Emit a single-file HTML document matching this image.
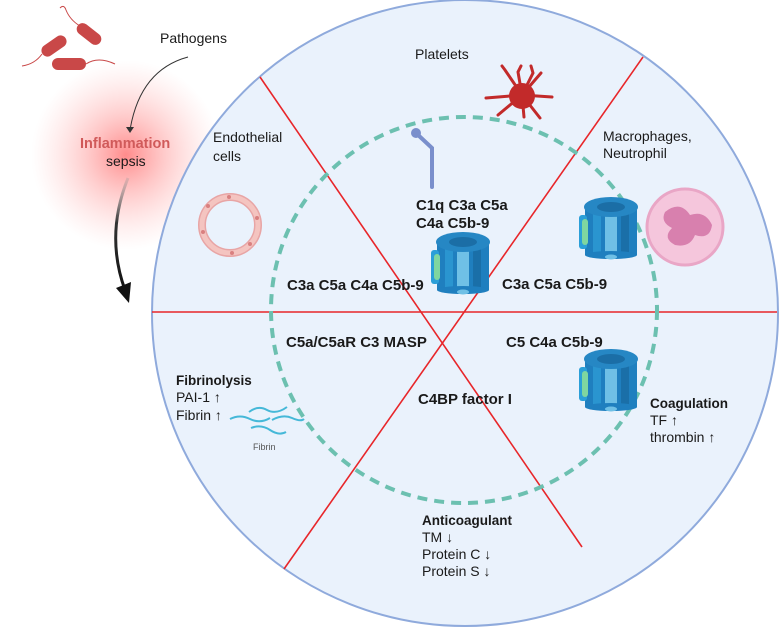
<!DOCTYPE html>
<html><head><meta charset="utf-8"><style>
html,body{margin:0;padding:0;background:#fff;}
svg{display:block;}
text{font-family:"Liberation Sans",Arial,sans-serif;fill:#1a1a1a;}
.b{font-weight:bold;font-size:15px;}
.n{font-size:14px;}
</style></head><body>
<svg width="779" height="628" viewBox="0 0 779 628" xmlns="http://www.w3.org/2000/svg">
<defs>
<radialGradient id="glow" cx="50%" cy="50%" r="50%">
<stop offset="0" stop-color="#ff5a5a" stop-opacity="0.7"/>
<stop offset="0.4" stop-color="#ff7b7b" stop-opacity="0.4"/>
<stop offset="1" stop-color="#ffb0b0" stop-opacity="0"/>
</radialGradient>
<linearGradient id="arr" x1="0" y1="0" x2="0" y2="1">
<stop offset="0" stop-color="#999" stop-opacity="0.3"/>
<stop offset="0.4" stop-color="#333"/>
<stop offset="1" stop-color="#111"/>
</linearGradient>
<g id="chan">
<rect x="-26" y="-20" width="52" height="48" fill="#1f7fbf"/>
<rect x="-18" y="-20" width="8" height="50" fill="#2a95d0"/>
<rect x="-6" y="-18" width="12" height="50" fill="#6fc0e6"/>
<rect x="10" y="-20" width="8" height="48" fill="#1a6fa8"/>
<ellipse cx="0" cy="28" rx="26" ry="4" fill="#1f7fbf"/>
<ellipse cx="0" cy="30" rx="6" ry="2.5" fill="#6fc0e6"/>
<ellipse cx="0" cy="-20" rx="27" ry="10" fill="#2687c4"/>
<ellipse cx="0" cy="-20" rx="14" ry="5" fill="#1b6ea6"/>
<rect x="-32" y="-12" width="8" height="34" rx="3" fill="#2b9fd8"/>
<rect x="-29" y="-8" width="6" height="26" rx="3" fill="#7fd6a0"/>
</g>
</defs>

<circle cx="126" cy="155" r="95" fill="url(#glow)"/>

<circle cx="465" cy="313" r="313" fill="#eaf2fc" stroke="#8faadc" stroke-width="2"/>

<line x1="152" y1="312" x2="777" y2="312" stroke="#e8262a" stroke-width="1.6"/>
<line x1="260" y1="77" x2="582" y2="547" stroke="#e8262a" stroke-width="1.6"/>
<line x1="643" y1="57" x2="284" y2="569" stroke="#e8262a" stroke-width="1.6"/>

<circle cx="464" cy="310" r="193" fill="none" stroke="#6cc0b0" stroke-width="4" stroke-dasharray="10 7"/>

<g fill="#c94848">
<rect x="40" y="40" width="28" height="12" rx="6" transform="rotate(-35 54 46)"/>
<rect x="75" y="28" width="28" height="12" rx="6" transform="rotate(38 89 34)"/>
<rect x="52" y="58" width="34" height="12" rx="6"/>
</g>
<g fill="none" stroke="#c94848" stroke-width="1">
<path d="M42 54 Q35 64 22 66"/><path d="M80 26 Q70 20 66 10 Q64 4 60 8"/><path d="M86 64 Q98 56 115 64"/>
</g>

<path d="M188 57 Q140 70 130 130" fill="none" stroke="#333" stroke-width="1"/>
<polygon points="126,127 134,127 130,133" fill="#333"/>
<path d="M128 178 Q105 235 125 290" fill="none" stroke="url(#arr)" stroke-width="3"/>
<polygon points="116,288 129,303 131,282" fill="#111"/>

<text class="n" x="160" y="43">Pathogens</text>
<text x="80" y="148" style="font-weight:bold;font-size:14.5px;fill:#d05a5a">Inflammation</text>
<text class="n" x="106" y="166">sepsis</text>

<text class="n" x="213" y="142">Endothelial</text>
<text class="n" x="213" y="161">cells</text>
<text class="n" x="415" y="59">Platelets</text>
<text class="n" x="603" y="141">Macrophages,</text>
<text class="n" x="603" y="158">Neutrophil</text>

<circle cx="230" cy="225" r="28" fill="none" stroke="#e8a5a5" stroke-width="8"/>
<circle cx="230" cy="225" r="28" fill="none" stroke="#f4c4c0" stroke-width="5"/>
<g fill="#d98080"><circle cx="229" cy="197" r="2"/><circle cx="257" cy="218" r="2"/><circle cx="203" cy="232" r="2"/><circle cx="232" cy="253" r="2"/><circle cx="250" cy="244" r="2"/><circle cx="208" cy="206" r="2"/></g>

<g stroke="#c22a2a" stroke-width="3" fill="none" stroke-linecap="round">
<path d="M522 95 L505 70 L502 66"/><path d="M522 95 L518 72 L521 66"/><path d="M522 95 L533 73 L531 66"/><path d="M522 95 L541 73"/><path d="M522 95 L552 97"/><path d="M522 95 L486 98"/><path d="M522 95 L498 115"/><path d="M522 95 L540 118"/><path d="M522 95 L524 117"/>
</g>
<circle cx="522" cy="96" r="13" fill="#c22a2a"/>

<path d="M417 134 L432 148 L432 187" fill="none" stroke="#7a8fcc" stroke-width="4" stroke-linecap="round"/>
<circle cx="416" cy="133" r="5" fill="#7a8fcc"/>

<circle cx="685" cy="227" r="38" fill="#f5c6dc" stroke="#e9a6c6" stroke-width="3"/>
<path d="M665 212 Q680 200 690 215 Q705 210 712 225 Q710 240 695 235 Q690 248 675 245 Q662 238 672 228 Q660 222 665 212Z" fill="#d880ae"/>

<use href="#chan" x="463" y="262"/>
<use href="#chan" x="611" y="227"/>
<use href="#chan" x="611" y="379"/>

<g fill="none" stroke="#45b8d8" stroke-width="2">
<path d="M230 419 Q240 414 250 419 T270 418"/>
<path d="M249 412 Q258 405 267 410 T287 407"/>
<path d="M272 420 Q283 414 292 418 T304 419"/>
<path d="M251 428 Q261 424 270 430 T286 432"/>
</g>
<text x="253" y="450" style="font-size:9px;fill:#555">Fibrin</text>

<text class="b" x="416" y="210">C1q C3a C5a</text>
<text class="b" x="416" y="228">C4a C5b-9</text>
<text class="b" x="287" y="290">C3a C5a C4a C5b-9</text>
<text class="b" x="502" y="289">C3a C5a C5b-9</text>
<text class="b" x="286" y="347">C5a/C5aR C3 MASP</text>
<text class="b" x="506" y="347">C5 C4a C5b-9</text>
<text class="b" x="418" y="404">C4BP factor I</text>

<text x="176" y="385" style="font-weight:bold;font-size:13.5px">Fibrinolysis</text>
<text class="n" x="176" y="402">PAI-1  ↑</text>
<text class="n" x="176" y="420">Fibrin ↑</text>

<text x="650" y="408" style="font-weight:bold;font-size:13.5px">Coagulation</text>
<text class="n" x="650" y="425">TF ↑</text>
<text class="n" x="650" y="442">thrombin ↑</text>

<text x="422" y="525" style="font-weight:bold;font-size:13.5px">Anticoagulant</text>
<text class="n" x="422" y="542">TM ↓</text>
<text class="n" x="422" y="559">Protein C ↓</text>
<text class="n" x="422" y="576">Protein S ↓</text>
</svg>
</body></html>
